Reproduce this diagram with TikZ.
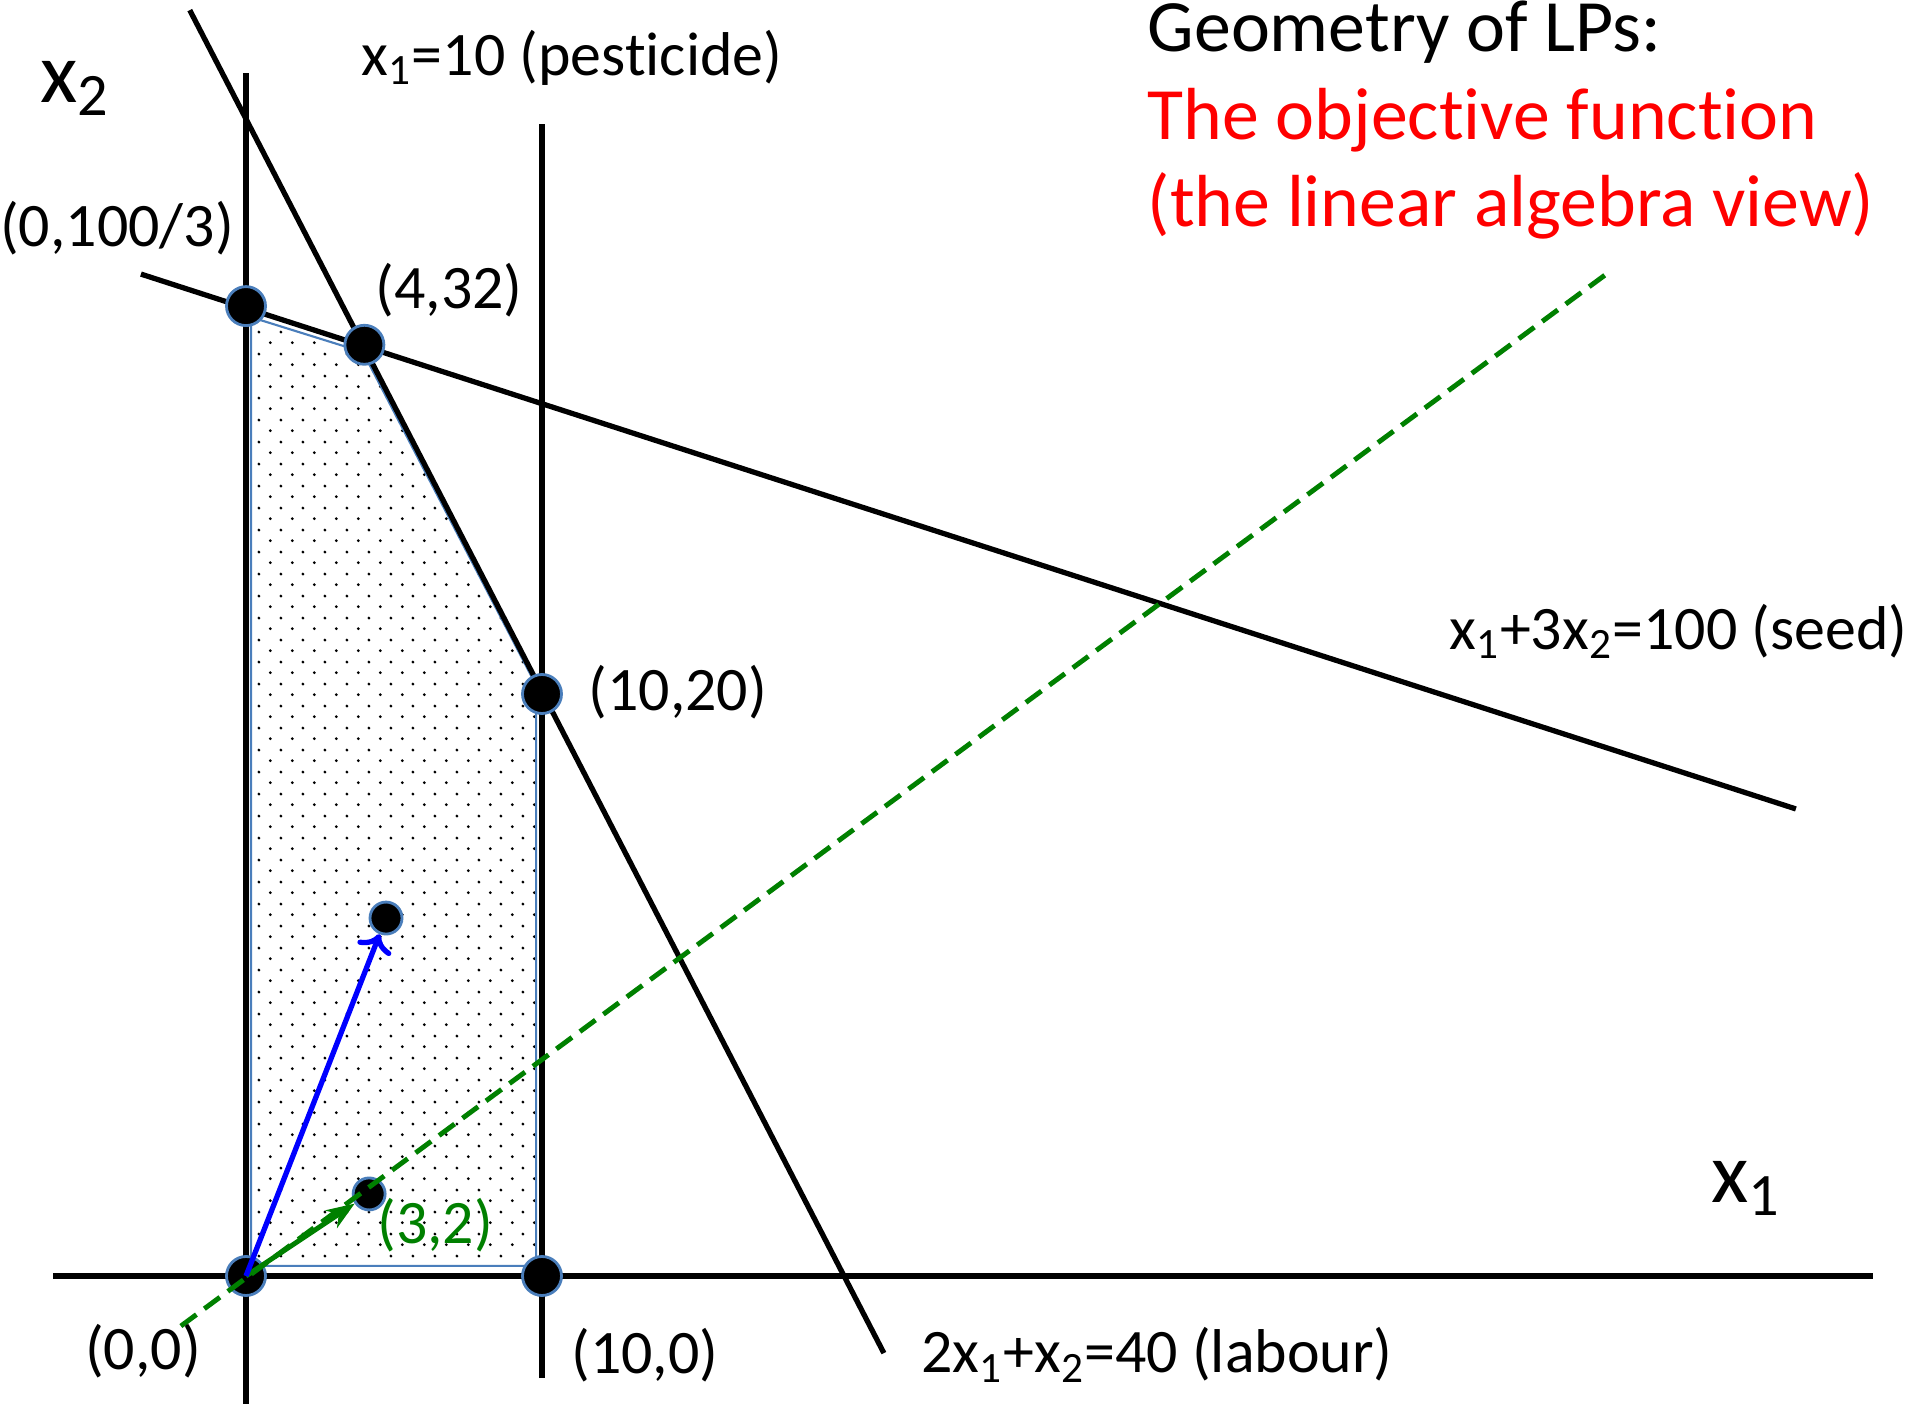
\documentclass[tikz,border=0pt]{standalone}
\usepackage{fontspec}
\setmainfont{Carlito}[Ligatures={NoCommon}]
\usetikzlibrary{patterns.meta,arrows.meta}
\definecolor{dotblue}{RGB}{74,126,187}
\definecolor{objgreen}{RGB}{0,128,0}
\tikzdeclarepattern{
  name=feasdots,
  type=uncolored,
  bounding box={(0pt,0pt) and (6.3pt,6.3pt)},
  tile size={(6.3pt,6.3pt)},
  code={
    \fill (1.57pt,1.57pt) circle[radius=0.45pt];
    \fill (4.72pt,4.72pt) circle[radius=0.45pt];
  }
}
\tikzset{
  vertex/.style={circle,fill=black,draw=dotblue,line width=0.8pt,minimum size=0.39cm,inner sep=0pt},
  smalldot/.style={vertex,minimum size=0.32cm},
  lbl/.style={font=\fontsize{17.6}{21}\selectfont,inner sep=0pt},
  axlbl/.style={font=\fontsize{24.5}{29}\selectfont,inner sep=0pt},
  titlelbl/.style={font=\fontsize{21}{25.6}\selectfont,inner sep=0pt,anchor=base west},
  constraint/.style={line width=1.5pt},
}
\begin{document}
\begin{tikzpicture}[x=0.296cm,y=0.291cm]
\useasboundingbox (-8.311,-4.399) rectangle (56.554,43.849);
% feasible region
\draw[dotblue,line width=0.6pt,pattern={feasdots},pattern color=black]
  (0.17,0.35) -- (0.17,32.95) -- (3.95,31.75) -- (9.8,20.3) -- (9.8,0.35) -- cycle;
% axes
\draw[line width=1.7pt] (-6.52,0) -- (54.97,0);
\draw[line width=1.7pt] (0,-4.40) -- (0,41.34);
% constraints
\draw[constraint] (10,-3.51) -- (10,39.59);
\draw[constraint] (-1.9,43.5) -- (21.55,-2.65);
\draw[constraint] (-3.55,34.43) -- (52.36,16.05);
% corner points
\node[vertex] (o) at (0,0) {};
\node[vertex] (p100) at (0,33.33) {};
\node[vertex] (p432) at (4,32) {};
\node[vertex] (p1020) at (10,20) {};
\node[vertex] (p100x) at (10,0) {};
\node[smalldot] (c) at (4.16,2.82) {};
\node[smalldot] (q) at (4.73,12.30) {};
% objective direction
\draw[objgreen,line width=1.4pt,dash pattern=on 5.5pt off 2.8pt] (-2.20,-1.72) -- (46.01,34.47);
\draw[objgreen,line width=1.4pt,-{Stealth[length=8pt]}] (o.center) -- (c);
\draw[blue,line width=1.5pt,->] (o.center) -- (q);
% labels
\node[axlbl] (lx2) at (-5.78,40.82) {x\textsubscript{2}};
\node[axlbl] (lx1) at (50.68,3.02) {x\textsubscript{1}};
\node[lbl] (lpest) at (11.01,41.86) {x\textsubscript{1}=10 (pesticide)};
\node[lbl,anchor=west] (lseed) at (40.64,22.16) {x\textsubscript{1}+3x\textsubscript{2}=100 (seed)};
\node[lbl,anchor=west] (llab) at (22.80,-2.71) {2x\textsubscript{1}+x\textsubscript{2}=40 (labour)};
\node[lbl] (l100) at (-4.36,36.01) {(0,100/3)};
\node[lbl] (l432) at (6.86,33.88) {(4,32)};
\node[lbl] (l1020) at (14.59,20.07) {(10,20)};
\node[lbl] (l00) at (-3.48,-2.58) {(0,0)};
\node[lbl] (l100x) at (13.48,-2.71) {(10,0)};
\node[lbl,objgreen] (l32) at (6.39,1.75) {(3,2)};
\node[titlelbl] (t1) at (30.44,42.08) {Geometry of LPs:};
\node[titlelbl,red] (t2) at (30.44,39.05) {The objective function};
\node[titlelbl,red] (t3) at (30.44,36.08) {(the linear algebra view)};
\end{tikzpicture}
\end{document}
